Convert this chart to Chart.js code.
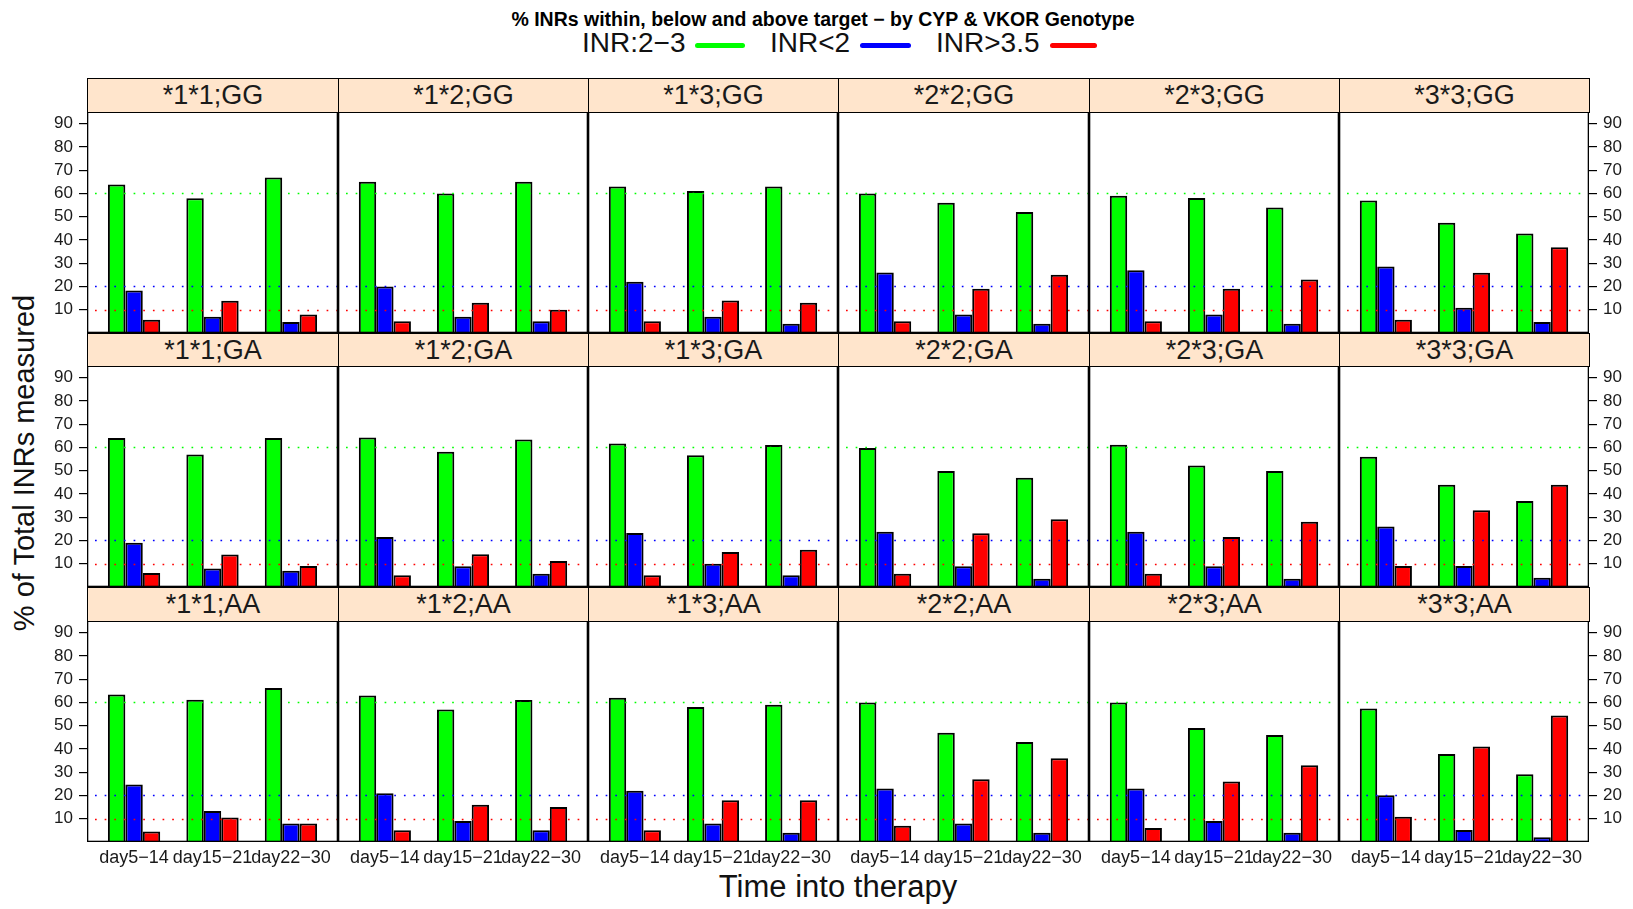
<!DOCTYPE html>
<html>
<head>
<meta charset="utf-8">
<title>INR by CYP &amp; VKOR genotype</title>
<script src="https://cdn.jsdelivr.net/npm/chart.js@4.4.1/dist/chart.umd.min.js"></script>
<style>
  html, body { margin: 0; padding: 0; background: #fff; }
  body {
    width: 1633px; height: 909px; position: relative; overflow: hidden;
    font-family: "Liberation Sans", Arial, Helvetica, sans-serif; color: #000;
  }
  .abs { position: absolute; }
  #title { left: 323px; width: 1000px; top: 8px; text-align: center; font-weight: bold; font-size: 19.5px; line-height: 22px; }
  .legtxt { font-size: 28px; line-height: 28px; top: 29px; white-space: nowrap; color: #111; }
  .legline { height: 5px; top: 43px; border-radius: 3px; }
  .strip {
    box-sizing: border-box; background: #ffe5cc; border: 1px solid #000;
    text-align: center; font-size: 27px; color: #1a1a1a; white-space: nowrap;
  }
  #ylab {
    left: 24px; top: 463px; font-size: 29px; line-height: 29px; white-space: nowrap;
    transform: translate(-50%, -50%) rotate(-90deg); color: #111;
  }
  #xlab { left: 338px; width: 1000px; top: 871px; text-align: center; font-size: 31px; line-height: 31px; color: #111; }
  canvas { position: absolute; }
</style>
</head>
<body>
<div id="title" class="abs">% INRs within, below and above target − by CYP &amp; VKOR Genotype</div>
<div id="legend"></div>
<div id="ylab" class="abs">% of Total INRs measured</div>
<div id="xlab" class="abs">Time into therapy</div>
<div id="panels"></div>

<script>
// Time windows on the x axis of every panel
const periods = ['day5−14', 'day15−21', 'day22−30'];

// Panel conditioning: CYP2C9 genotype (columns) and VKORC1 genotype (rows)
const cypTypes = ['*1*1', '*1*2', '*1*3', '*2*2', '*2*3', '*3*3'];
const vkorTypes = ['GG', 'GA', 'AA'];

// % of INRs within target (2–3), one triple per CYP genotype
const inRangeGG = [[63.8, 57.9, 66.8], [65, 60, 65], [63, 61, 63], [60, 56, 52], [59, 58, 54], [57, 47.4, 42.8]];
const inRangeGA = [[64, 57, 64], [64.3, 58.1, 63.4], [61.7, 56.6, 61], [59.8, 49.9, 47], [61.2, 52.2, 49.9], [56, 44, 37]];
const inRangeAA = [[63.4, 61.2, 66.2], [63, 57, 61], [62, 58, 59], [60, 47, 43], [60, 49, 46], [57.4, 37.8, 29.1]];

// % of INRs below target (< 2)
const belowGG = [[18.3, 7, 4.7], [20, 7, 5], [22, 7, 4], [26, 8, 4], [27, 8, 4], [28.6, 10.9, 4.7]];
const belowGA = [[19, 8, 7], [21.5, 8.9, 5.7], [23.2, 10, 5], [23.8, 8.9, 3.6], [23.8, 8.9, 3.6], [26, 9, 4]];
const belowAA = [[24.7, 13.3, 8], [21, 9, 5], [22, 8, 4], [23, 8, 4], [23, 9, 4], [20.1, 5.2, 2]];

// % of INRs above target (> 3.5)
const aboveGG = [[5.7, 13.9, 7.9], [5, 13, 10], [5, 14, 13], [5, 19, 25], [5, 19, 23], [5.7, 25.9, 36.9]];
const aboveGA = [[6, 14, 9], [5, 14.1, 11.2], [5, 15, 16], [5.7, 23.1, 29.1], [5.7, 21.5, 28], [9, 33, 44]];
const aboveAA = [[4.5, 10.5, 8], [5, 16, 15], [5, 18, 18], [7, 27, 36], [6, 26, 33], [10.9, 41, 54.4]];

// Value axis
const yTicks = [10, 20, 30, 40, 50, 60, 70, 80, 90];
const yMax = 95;

// Reference levels drawn as dotted lines in each panel
const refLevels = [60, 20, 10];

const seriesNames = ['INR:2−3', 'INR<2', 'INR>3.5'];
const seriesColors = ['#00ff00', '#0000ff', '#ff0000'];

const seriesByRow = [
  [inRangeGG, belowGG, aboveGG],
  [inRangeGA, belowGA, aboveGA],
  [inRangeAA, belowAA, aboveAA]
];

// ---- layout of the trellis ----
const colX = [87, 338, 588, 838, 1089, 1339, 1589];
const stripTop = [78, 333, 587];
const panelTop = [112, 366, 621];
const panelBottom = [333, 587, 842];
const PAGE_W = 1633;
const FONT = '"Liberation Sans", Arial, Helvetica, sans-serif';

// legend
const legend = document.getElementById('legend');
const legendText = [582, 770, 936];
const legendLine = [[695, 745], [860, 911], [1050, 1097]];
seriesNames.forEach((name, i) => {
  const t = document.createElement('div');
  t.className = 'abs legtxt';
  t.style.left = legendText[i] + 'px';
  t.textContent = name;
  legend.appendChild(t);
  const l = document.createElement('div');
  l.className = 'abs legline';
  l.style.left = legendLine[i][0] + 'px';
  l.style.width = (legendLine[i][1] - legendLine[i][0]) + 'px';
  l.style.background = seriesColors[i];
  legend.appendChild(l);
});

// frame + dotted reference lines for each panel
const panelDecor = {
  id: 'panelDecor',
  afterDatasetsDraw(chart) {
    const { ctx, chartArea: a } = chart;
    const y = chart.scales.y;
    ctx.save();
    ctx.lineWidth = 1.7;
    ctx.setLineDash([1.7, 7.95]);
    refLevels.forEach((v, i) => {
      const py = Math.round(y.getPixelForValue(v)) + 0.5;
      ctx.strokeStyle = seriesColors[i];
      ctx.beginPath();
      ctx.moveTo(a.left + 8, py);
      ctx.lineTo(a.right - 1, py);
      ctx.stroke();
    });
    ctx.setLineDash([]);
    ctx.strokeStyle = '#000';
    ctx.lineWidth = 1.3;
    ctx.strokeRect(a.left + 0.65, a.top, a.width - 1.3, a.height - 0.65);
    ctx.restore();
  }
};

const panels = document.getElementById('panels');

vkorTypes.forEach((vk, r) => {
  cypTypes.forEach((cyp, c) => {
    const left = colX[c], right = colX[c + 1];
    const top = panelTop[r], bottom = panelBottom[r];

    // strip header
    const s = document.createElement('div');
    s.className = 'abs strip';
    s.style.left = left + 'px';
    s.style.top = stripTop[r] + 'px';
    s.style.width = (right - left + 1) + 'px';
    s.style.height = (top - stripTop[r] + 1) + 'px';
    s.style.lineHeight = (top - stripTop[r] - 1) + 'px';
    s.textContent = cyp + ';' + vk;
    panels.appendChild(s);

    const padL = c === 0 ? left : 0;
    const padR = c === cypTypes.length - 1 ? PAGE_W - right : 0;
    const padB = r === vkorTypes.length - 1 ? 46 : 0;

    const cv = document.createElement('canvas');
    const w = right - left + padL + padR;
    const h = bottom - top + padB;
    cv.width = w; cv.height = h;
    cv.style.left = (left - padL) + 'px';
    cv.style.top = top + 'px';
    cv.style.width = w + 'px';
    cv.style.height = h + 'px';
    panels.appendChild(cv);

    const datasets = seriesByRow[r].map((series, k) => ({
      label: seriesNames[k],
      data: series[c].map((v, i) => ({ x: i + 1, y: v })),
      backgroundColor: seriesColors[k],
      borderColor: '#000',
      borderWidth: 2,
      borderSkipped: 'start',
      categoryPercentage: 0.667,
      barPercentage: 1
    }));

    const yPos = c === cypTypes.length - 1 ? 'right' : 'left';

    new Chart(cv, {
      type: 'bar',
      data: { datasets },
      options: {
        responsive: false,
        animation: false,
        devicePixelRatio: 1,
        layout: { padding: 0 },
        plugins: { legend: { display: false }, tooltip: { enabled: false } },
        scales: {
          x: {
            type: 'linear',
            min: 0.4,
            max: 3.6,
            offset: false,
            display: padB > 0,
            grid: { display: false, drawTicks: false, offset: false },
            border: { display: false },
            afterBuildTicks: sc => { sc.ticks = periods.map((p, i) => ({ value: i + 1 })); },
            afterFit: sc => {
              sc.height = padB;
              sc.paddingLeft = 0; sc.paddingRight = 0; sc.paddingTop = 0; sc.paddingBottom = 0;
            },
            ticks: {
              autoSkip: false, maxRotation: 0, minRotation: 0, padding: 5,
              color: '#1a1a1a', font: { family: FONT, size: 18 },
              callback: (v, i) => periods[i]
            }
          },
          y: {
            type: 'linear',
            min: 0,
            max: yMax,
            position: yPos,
            display: padL > 0 || padR > 0,
            border: { display: false },
            grid: { display: true, drawOnChartArea: false, drawTicks: true, tickLength: 8, color: '#000', lineWidth: 1.2 },
            afterBuildTicks: sc => { sc.ticks = yTicks.map(v => ({ value: v })); },
            afterFit: sc => {
              sc.width = padL + padR;
              sc.paddingLeft = 0; sc.paddingRight = 0; sc.paddingTop = 0; sc.paddingBottom = 0;
            },
            ticks: {
              padding: 6, color: '#1a1a1a', font: { family: FONT, size: 17 }
            }
          }
        }
      },
      plugins: [panelDecor]
    });
  });
});
</script>
</body>
</html>
